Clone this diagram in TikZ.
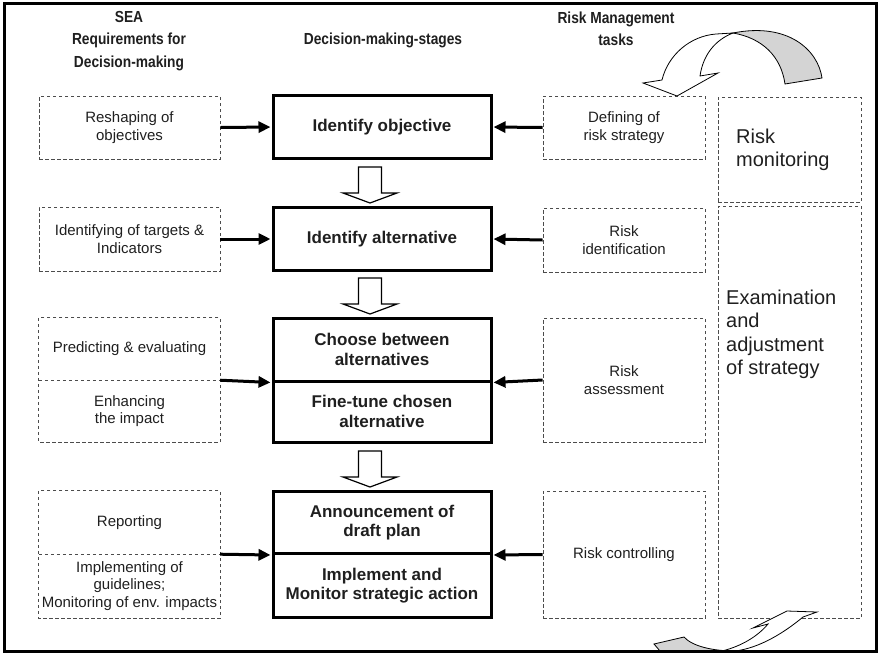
\documentclass[tikz,border=0pt]{standalone}
\usepackage{fontspec}
\setmainfont{Liberation Sans}
\newfontfamily\headfont[FakeStretch=0.86]{Liberation Sans}
\usetikzlibrary{arrows.meta}

\begin{document}
\begin{tikzpicture}[x=1pt,y=-1pt,
  every node/.style={text=black!88},
  header/.style={font=\headfont\bfseries\fontsize{16}{22.5}\selectfont, align=center, inner sep=0pt},
  dashline/.style={draw=black!70, dash pattern=on 3.5pt off 2.5pt, line width=0.9pt},
  reqtext/.style={align=center, font=\fontsize{15}{17.5}\selectfont, inner sep=0pt, minimum width=181pt},
  reqbox/.style={reqtext, dashline},
  taskbox/.style={reqbox, minimum width=162pt},
  stagebox/.style={draw=black, line width=3pt, align=center,
    font=\bfseries\fontsize{17}{19.5}\selectfont, inner sep=0pt, minimum width=218pt},
  cyclebox/.style={dashline, inner sep=0pt, minimum width=143pt},
  bigtext/.style={font=\fontsize{20}{23.2}\selectfont, align=left, inner sep=0pt},
  feed/.style={line width=3pt, -{Triangle[length=12pt,width=11pt]}, shorten >=1pt},
  hollow/.style={draw=black, line width=1.2pt, fill=white, line join=miter},
  ribbon/.style={draw=black, line width=0.8pt, line join=miter},
  pics/stepdown/.style={code={
    \draw[hollow] (-11.5,0) -- (11.5,0) -- (11.5,26) -- (27,26) -- (0,36)
      -- (-27,26) -- (-11.5,26) -- cycle;}}
]
\useasboundingbox (0,0) rectangle (880,654);

% column headings
\node[header] (hSEA) at (129,41) {SEA\\Requirements for\\Decision-making};
\node[header] (hDMS) at (383,40) {Decision-making-stages};
\node[header] (hRM)  at (616,29) {Risk Management\\tasks};

% SEA requirements (left column)
\node[reqbox, minimum height=63pt] (reshape) at (129.5,127.5) {Reshaping of\\objectives};
\node[reqbox, minimum height=64pt] (targets) at (129.5,239) {Identifying of targets \&\\Indicators};
\node[reqtext, minimum height=62pt] (predict) at (129.5,349) {Predicting \& evaluating};
\node[reqtext, minimum height=62pt] (enhance) at (129.5,411) {Enhancing\\the impact};
\node[reqtext, minimum height=63pt] (report) at (129.5,522.5) {Reporting};
\node[reqtext, minimum height=64pt] (implement) at (129.5,586) {Implementing of\\guidelines;\\Monitoring of env. impacts};
% split boxes: one dashed outline with a dashed divider
\draw[dashline] (predict.north west) rectangle (enhance.south east);
\draw[dashline] (predict.south west) -- (predict.south east);
\draw[dashline] (report.north west) rectangle (implement.south east);
\draw[dashline] (report.south west) -- (report.south east);

% decision-making stages (centre column)
\node[stagebox, minimum height=63pt] (obj) at (382,127) {Identify objective};
\node[stagebox, minimum height=63pt] (alt) at (382,239) {Identify alternative};
\node[stagebox, minimum height=63pt] (choose) at (382,349.5) {Choose between\\alternatives};
\node[stagebox, minimum height=61pt] (finetune) at (382,411.5) {Fine-tune chosen\\alternative};
\node[stagebox, minimum height=62pt] (announce) at (382,522.5) {Announcement of\\draft plan};
\node[stagebox, minimum height=64pt] (monitor) at (382,585.5) {Implement and\\Monitor strategic action};

% risk management tasks (right column)
\node[taskbox, minimum height=63pt] (defrisk) at (624,127.5) {Defining of\\risk strategy};
\node[taskbox, minimum height=64pt] (riskid) at (624,240) {Risk\\identification};
\node[taskbox, minimum height=124pt] (assess) at (624,380) {Risk\\assessment};
\node[taskbox, minimum height=127pt] (control) at (624,554.5) {Risk controlling};

% risk cycle (far right)
\node[cyclebox, minimum height=105pt] (rmon) at (789.5,149.5) {};
\node[cyclebox, minimum height=412pt] (exam) at (789.5,412) {};
\node[bigtext, anchor=north west] (rmontext) at (736,129) {Risk\\monitoring};
\node[bigtext, anchor=north west] (examtext) at (726,290) {Examination\\and\\adjustment\\of strategy};

% inputs into the stages
\draw[feed] (reshape.east) -- (obj.west);
\draw[feed] (targets.east) -- (alt.west);
\draw[feed] (predict.south east) -- (choose.south west);
\draw[feed] (report.south east) -- (announce.south west);
\draw[feed] (defrisk.west) -- (obj.east);
\draw[feed] (riskid.west) -- (alt.east);
\draw[feed] (assess.west) -- (choose.south east);
\draw[feed] (control.west) -- (announce.south east);

% hollow arrows between the stages
\pic at (370,167) {stepdown};
\pic at (370,278) {stepdown};
\pic at (370,451) {stepdown};

% curved ribbon arrow at the top: back side (grey) and front with head
\draw[ribbon, fill=black!17] (733,33) .. controls (788,22) and (818,50) .. (822,78)
  -- (785,84) .. controls (781,56) and (762,38) .. (733,33) -- cycle;
\draw[ribbon, fill=white] (662,80) .. controls (668,55) and (690,36) .. (716,34)
  -- (733,33) .. controls (715,40) and (703,55) .. (700,76)
  -- (718,73) -- (677,96) -- (643,83) -- cycle;

% curved ribbon arrow at the bottom
\draw[ribbon, fill=black!17] (654,644) -- (684,637) .. controls (692,646) and (712,651) .. (735,651)
  -- (660,651) -- cycle;
\draw[ribbon, fill=white] (722,651) .. controls (742,646) and (758,636) .. (768,624)
  -- (753,628) -- (787,611) -- (817,612) -- (803,617)
  .. controls (785,632) and (760,648) .. (735,651) -- cycle;

% outer frame
\draw[line width=3pt] (4.5,3) rectangle (876,651.5);
\end{tikzpicture}
\end{document}
